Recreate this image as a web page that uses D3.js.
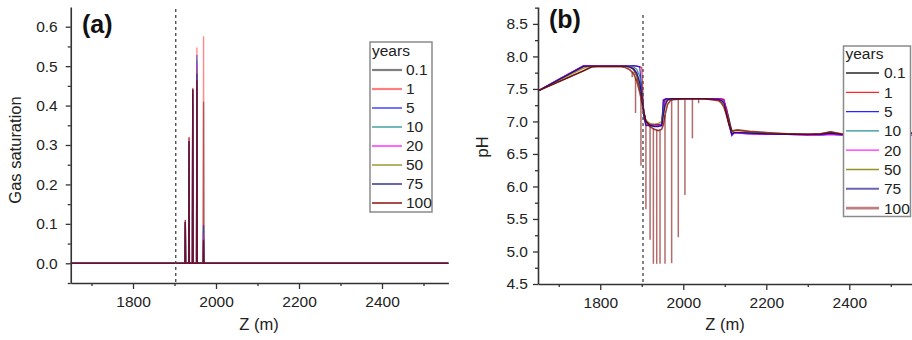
<!DOCTYPE html>
<html><head><meta charset="utf-8">
<script src="https://cdn.jsdelivr.net/npm/d3@7"></script>
<style>
html,body{margin:0;padding:0;background:#fff;}
svg{display:block;font-family:"Liberation Sans",Arial,sans-serif;}
</style></head>
<body>
<svg id="chart" width="912" height="340"></svg>
<script>
// ---------- DATA ----------
const years = ["0.1","1","5","10","20","50","75","100"];
const colors = ["#000000","#ff0000","#0000ff","#008080","#ff00ff","#808000","#000080","#800000"];

// Panel (a): gas saturation spikes
const spikeZA = [1926, 1935, 1944, 1954, 1970];
const gas01  = [0.100, 0.300, 0.430, 0.450, 0.410];
const gas1   = [0.110, 0.320, 0.445, 0.547, 0.576];
const gas5   = [0.105, 0.310, 0.440, 0.528, 0.097];
const gas10  = [0.105, 0.310, 0.440, 0.515, 0.090];
const gas20  = [0.105, 0.310, 0.440, 0.507, 0.075];
const gas50  = [0.105, 0.310, 0.440, 0.490, 0.065];
const gas75  = [0.105, 0.310, 0.440, 0.481, 0.060];
const gas100 = [0.109, 0.319, 0.443, 0.464, 0.058];
const zExtent = [1650, 2560];
const boundaryZ = 1903;

// Panel (b): pH profiles
const zB = [1650,1700,1760,1770,1780,1800,1850,1860,1870,1880,1888,1895,1900,1905,1910,1920,1930,1940,1948,1952,1956,1962,1970,2000,2050,2085,2092,2098,2104,2110,2117,2122,2130,2160,2200,2250,2300,2330,2355,2380,2400,2450,2500,2560];
const ph01  = [7.47,7.61,7.78,7.81,7.84,7.85,7.85,7.85,7.84,7.80,7.70,7.52,7.35,7.15,7.00,6.95,6.95,6.95,6.96,7.20,7.34,7.35,7.35,7.35,7.35,7.34,7.33,7.30,7.20,7.05,6.85,6.83,6.83,6.82,6.81,6.81,6.80,6.80,6.81,6.80,6.80,6.81,6.82,6.82];
const ph1   = [7.47,7.64,7.84,7.85,7.85,7.85,7.85,7.85,7.85,7.85,7.85,7.84,7.83,7.10,6.95,6.94,6.94,6.94,6.95,7.33,7.34,7.35,7.35,7.35,7.35,7.35,7.35,7.34,7.20,7.00,6.80,6.83,6.83,6.82,6.81,6.81,6.80,6.80,6.82,6.80,6.80,6.81,6.82,6.83];
const ph5   = [7.47,7.65,7.86,7.86,7.86,7.86,7.86,7.86,7.86,7.86,7.85,7.84,7.50,7.05,6.94,6.93,6.93,6.93,6.93,7.33,7.34,7.35,7.35,7.35,7.35,7.35,7.34,7.33,7.15,6.95,6.78,6.82,6.82,6.81,6.80,6.80,6.79,6.79,6.80,6.79,6.78,6.78,6.78,6.79];
const ph10  = [7.47,7.65,7.85,7.86,7.86,7.86,7.86,7.86,7.86,7.84,7.80,7.70,7.45,7.15,7.00,6.94,6.93,6.93,6.95,7.20,7.30,7.34,7.35,7.35,7.35,7.34,7.33,7.30,7.15,6.98,6.80,6.83,6.83,6.82,6.81,6.80,6.80,6.80,6.82,6.80,6.80,6.80,6.81,6.82];
const ph20  = [7.47,7.65,7.86,7.86,7.86,7.86,7.86,7.86,7.85,7.82,7.75,7.60,7.40,7.15,7.00,6.95,6.94,6.94,6.96,7.10,7.30,7.34,7.35,7.35,7.35,7.35,7.34,7.32,7.15,6.97,6.79,6.82,6.82,6.81,6.80,6.80,6.79,6.79,6.80,6.79,6.79,6.79,6.80,6.81];
const ph50  = [7.47,7.63,7.82,7.84,7.85,7.85,7.85,7.85,7.84,7.80,7.70,7.55,7.35,7.15,7.02,6.97,6.96,6.97,7.00,7.10,7.22,7.32,7.34,7.35,7.35,7.33,7.30,7.25,7.10,6.95,6.83,6.85,6.86,6.84,6.82,6.81,6.80,6.81,6.84,6.81,6.80,6.80,6.81,6.82];
const ph75  = [7.47,7.64,7.85,7.85,7.85,7.85,7.85,7.85,7.84,7.81,7.74,7.60,7.40,7.15,7.00,6.94,6.92,6.92,6.94,7.10,7.25,7.33,7.35,7.35,7.35,7.34,7.32,7.28,7.12,6.96,6.80,6.83,6.83,6.82,6.81,6.80,6.80,6.80,6.82,6.80,6.79,6.80,6.81,6.82];
const ph100 = [7.47,7.61,7.78,7.81,7.84,7.84,7.84,7.83,7.80,7.74,7.62,7.45,7.30,7.12,7.00,6.92,6.88,6.86,6.88,6.95,7.10,7.26,7.33,7.35,7.35,7.32,7.28,7.22,7.10,6.96,6.86,6.86,6.87,6.85,6.83,6.81,6.80,6.81,6.84,6.81,6.80,6.80,6.81,6.82];
// pH spikes of the 100-year profile
const spikeZB   = [1877,1885,1898,1910,1920,1928,1936,1944,1956,1972,1988,2004,2022,2037];
const spikeMinB = [7.68,7.13,6.32,5.65,5.18,4.81,4.81,4.81,4.81,4.82,5.22,5.87,6.74,7.28];

// Tick values
const xTicks = [1800, 2000, 2200, 2400];
const xMinor = [1700, 1900, 2100, 2300, 2500];
const yTicksA = [0.0, 0.1, 0.2, 0.3, 0.4, 0.5, 0.6];
const yMinorA = [-0.05, 0.05, 0.15, 0.25, 0.35, 0.45, 0.55];
const yTicksB = [4.5, 5.0, 5.5, 6.0, 6.5, 7.0, 7.5, 8.0, 8.5];
const yMinorB = [4.75, 5.25, 5.75, 6.25, 6.75, 7.25, 7.75, 8.25, 8.75];

// ---------- DRAW ----------
const svg = d3.select("#chart");
const gasSeries = [gas01, gas1, gas5, gas10, gas20, gas50, gas75, gas100];
const phSeries = [ph01, ph1, ph5, ph10, ph20, ph50, ph75, ph100];

function drawAxes(g, x, y, yTicks, yMinor, yFmt, yPad, xTitleX, yTitle, yTitleX, yTitleY) {
  const axisColor = "#333";
  g.append("g").attr("transform", `translate(0,${y.range()[0]})`)
    .call(d3.axisBottom(x).tickValues(xMinor).tickSize(3).tickFormat(""))
    .call(s => s.select(".domain").remove());
  g.append("g").attr("transform", `translate(${x.range()[0]},0)`)
    .call(d3.axisLeft(y).tickValues(yMinor).tickSize(3).tickFormat(""))
    .call(s => s.select(".domain").remove());
  const gx = g.append("g").attr("transform", `translate(0,${y.range()[0]})`)
    .call(d3.axisBottom(x).tickValues(xTicks).tickSize(6).tickSizeOuter(0).tickPadding(7).tickFormat(d3.format("d")));
  const gy = g.append("g").attr("transform", `translate(${x.range()[0]},0)`)
    .call(d3.axisLeft(y).tickValues(yTicks).tickSize(5).tickSizeOuter(0).tickPadding(yPad).tickFormat(yFmt));
  [gx, gy].forEach(a => {
    a.selectAll("text").attr("font-size", 15.5).attr("fill", "#222").attr("font-family", "Liberation Sans, Arial, sans-serif");
    a.select(".domain").attr("stroke", axisColor).attr("stroke-width", 1.6);
  });
  g.selectAll(".tick line").attr("stroke", axisColor).attr("stroke-width", 1.3);
  g.append("text").attr("x", xTitleX).attr("y", 330).attr("text-anchor", "middle")
    .attr("font-size", 16.5).attr("fill", "#222").text("Z (m)");
  g.append("text").attr("transform", `translate(${yTitleX},${yTitleY}) rotate(-90)`)
    .attr("text-anchor", "middle").attr("font-size", 16.5).attr("fill", "#222").text(yTitle);
}

function drawLegend(g, x0, y0, w, h, rowTop, rowStep, lineX1, lineX2, textX, lw, ops) {
  const lg = g.append("g");
  lg.append("rect").attr("x", x0).attr("y", y0).attr("width", w).attr("height", h)
    .attr("fill", "#fff").attr("stroke", "#8a8a8a").attr("stroke-width", 1.5);
  lg.append("text").attr("x", x0 + 2).attr("y", rowTop - rowStep).attr("dy", "0.35em")
    .attr("font-size", 15.5).attr("fill", "#222").text("years");
  years.forEach((yr, i) => {
    const yy = rowTop + i * rowStep;
    lg.append("line").attr("x1", lineX1).attr("x2", lineX2).attr("y1", yy).attr("y2", yy)
      .attr("stroke", colors[i]).attr("stroke-width", lw[i]).attr("stroke-opacity", ops[i]);
    lg.append("text").attr("x", textX).attr("y", yy).attr("dy", "0.35em")
      .attr("font-size", 15.5).attr("fill", "#222").text(yr);
  });
}

// ----- Panel (a) -----
{
  const g = svg.append("g");
  const x = d3.scaleLinear().domain(zExtent).range([70.75, 448.4]);
  const y = d3.scaleLinear().domain([-0.05, 0.65]).range([283, 7]);
  const line = d3.line().x(d => x(d[0])).y(d => y(d[1]));
  gasSeries.forEach((vals, i) => {
    const pts = [[zExtent[0], 0]];
    spikeZA.forEach((z, k) => { pts.push([z - 0.8, 0], [z, vals[k]], [z + 0.8, 0]); });
    pts.push([zExtent[1], 0]);
    g.append("path").attr("d", line(pts)).attr("fill", "none")
      .attr("stroke", colors[i]).attr("stroke-width", 1.4).attr("stroke-opacity", i === 7 ? 0.6 : 0.45)
      .attr("stroke-linejoin", "miter");
  });
  g.append("line").attr("x1", x(boundaryZ)).attr("x2", x(boundaryZ)).attr("y1", 9).attr("y2", 283)
    .attr("stroke", "#444").attr("stroke-width", 1.3).attr("stroke-dasharray", "3,3");
  drawAxes(g, x, y, yTicksA, yMinorA, d3.format(".1f"), 8, 259, "Gas saturation", 20.5, 150);
  g.append("text").attr("x", 82).attr("y", 33).attr("font-size", 25).attr("font-weight", "bold")
    .attr("fill", "#111").text("(a)");
  drawLegend(g, 370, 42, 62, 170, 70, 19, 372, 402, 406,
    [2.2,2.2,2,2,2,2,2,2], [0.5,0.5,0.55,0.55,0.6,0.6,0.6,0.7]);
}

// ----- Panel (b) -----
{
  const g = svg.append("g");
  const x = d3.scaleLinear().domain(zExtent).range([538, 915.7]);
  const y = d3.scaleLinear().domain([4.5, 8.76]).range([284, 7]);
  const line = d3.line().x(d => x(d[0])).y(d => y(d[1]));
  svg.append("clipPath").attr("id", "clipB").append("rect")
    .attr("x", 538).attr("y", 0).attr("width", 380).attr("height", 284);
  const plot = g.append("g").attr("clip-path", "url(#clipB)");
  const bis = d3.bisector(d => d).left;
  spikeZB.forEach((z, k) => {
    const j = Math.max(1, bis(zB, z));
    const t = (z - zB[j - 1]) / (zB[j] - zB[j - 1]);
    const top = ph100[j - 1] + t * (ph100[j] - ph100[j - 1]);
    plot.append("line").attr("x1", x(z)).attr("x2", x(z)).attr("y1", y(top)).attr("y2", y(spikeMinB[k]))
      .attr("stroke", "#9a3a3a").attr("stroke-width", 1.5).attr("stroke-opacity", 0.75);
  });
  phSeries.forEach((vals, i) => {
    const pts = zB.map((z, k) => [z, vals[k]]);
    plot.append("path").attr("d", line(pts)).attr("fill", "none")
      .attr("stroke", colors[i]).attr("stroke-width", i === 7 ? 1.6 : 1.2)
      .attr("stroke-opacity", i === 7 ? 0.75 : 0.8);
  });
  g.append("line").attr("x1", x(boundaryZ)).attr("x2", x(boundaryZ)).attr("y1", 15).attr("y2", 284)
    .attr("stroke", "#444").attr("stroke-width", 1.3).attr("stroke-dasharray", "3,3");
  drawAxes(g, x, y, yTicksB, yMinorB, d3.format(".1f"), 5, 725, "pH", 488, 147);
  g.append("text").attr("x", 549).attr("y", 28).attr("font-size", 25).attr("font-weight", "bold")
    .attr("fill", "#111").text("(b)");
  drawLegend(g, 843.5, 46, 67, 170.5, 73, 19.3, 846, 879, 884,
    [1.3,1.3,1.3,1.3,1.3,1.3,2,2.6], [0.85,0.85,0.85,0.85,0.85,0.85,0.6,0.5]);
}
</script>
</body></html>
